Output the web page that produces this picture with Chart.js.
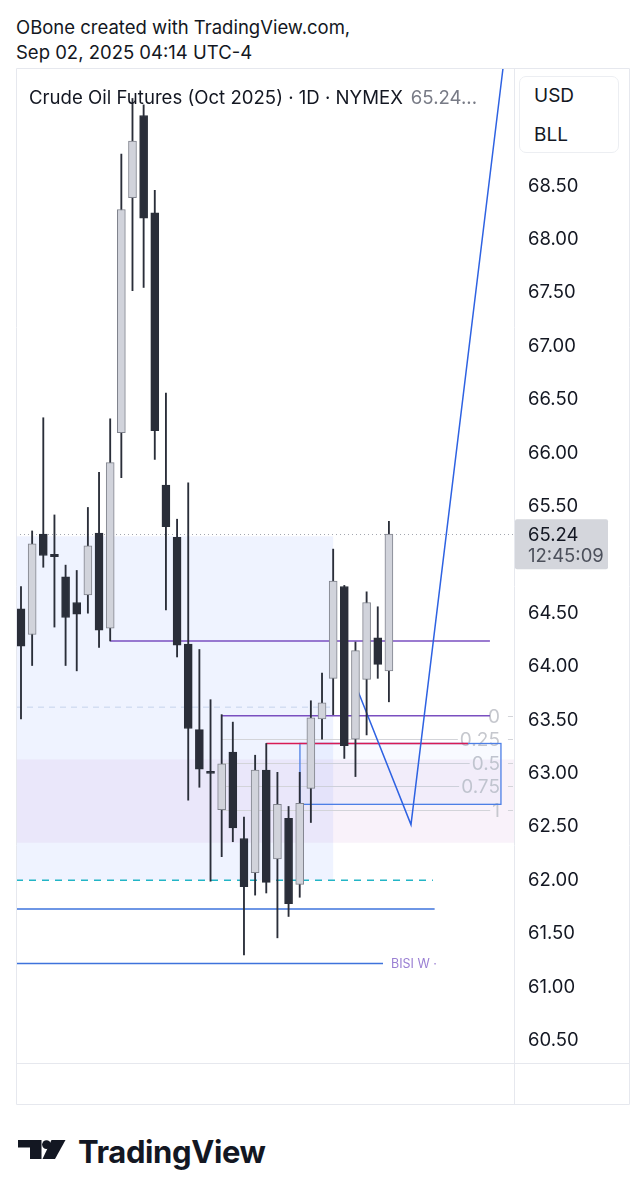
<!DOCTYPE html>
<html>
<head>
<meta charset="utf-8">
<title>Crude Oil Futures (Oct 2025) · 1D · NYMEX</title>
<script src="https://cdn.jsdelivr.net/npm/chart.js@4.4.1/dist/chart.umd.min.js"></script>
<style>
  html, body { margin: 0; padding: 0; background: #fff; width: 642px; height: 1200px; overflow: hidden;
    font-family: Inter, "Noto Sans", sans-serif; color: #131722; }
  #hdr { position: absolute; left: 16px; top: 15px; font-size: 18.5px; line-height: 25px; white-space: nowrap; }
  #wrap { position: absolute; left: 16px; top: 68px; width: 614px; height: 1037px; }
  #title { position: absolute; left: 29px; top: 86px; font-size: 18.6px; line-height: 22px; white-space: nowrap; }
  #title .v { color: #787b86; margin-left: 8px; }
  #unit { position: absolute; left: 519px; top: 76px; width: 100px; height: 77px; box-sizing: border-box;
    border: 1px solid #eceef2; border-radius: 7px; font-size: 19px; background: #fff; }
  #unit div { position: absolute; left: 14px; }
  #logo { position: absolute; left: 18px; top: 1140px; }
  #brand { position: absolute; left: 78px; top: 1136px; font-size: 31px; line-height: 31px; font-weight: 700;
    letter-spacing: -0.4px; color: #131722; }
</style>
</head>
<body>
<div id="hdr">OBone created with TradingView.com,<br>Sep 02, 2025 04:14 UTC-4</div>
<div id="wrap"><canvas id="c" width="614" height="1037"></canvas></div>
<div id="title">Crude Oil Futures (Oct 2025) · 1D · NYMEX<span class="v">65.24...</span></div>
<div id="unit"><div style="top:7px">USD</div><div style="top:46px">BLL</div></div>
<svg id="logo" width="48" height="19" viewBox="0 0 48 19">
  <path d="M0 0H23.5V19H12V7.5H0Z" fill="#131722"/>
  <circle cx="28.5" cy="4.6" r="4.4" fill="#131722"/>
  <path d="M33.5 0H47.5L37 19H24.5Z" fill="#131722"/>
</svg>
<div id="brand">TradingView</div>

<script>
// Daily OHLC, oldest to newest
const candleOpen  = [64.54, 64.30, 65.24, 65.05, 64.84, 64.60, 64.67, 65.25, 64.36, 66.19,
                     68.39, 69.16, 68.25, 65.70, 65.21, 64.21, 63.41, 63.02, 62.66, 63.20,
                     62.39, 62.07, 63.03, 62.20, 62.58, 61.96, 62.86, 63.51, 63.89, 64.75,
                     63.32, 63.88, 64.27, 63.96];
const candleHigh  = [64.75, 65.27, 66.33, 65.42, 64.95, 64.90, 65.49, 65.82, 66.32, 68.80,
                     69.32, 69.26, 68.46, 66.56, 65.38, 65.72, 64.16, 63.69, 63.55, 63.48,
                     62.59, 63.17, 63.28, 63.01, 62.69, 63.01, 63.68, 63.94, 65.10, 64.76,
                     64.23, 64.70, 64.56, 65.36];
const candleLow   = [63.51, 64.01, 64.93, 64.37, 64.01, 63.96, 64.50, 64.18, 64.24, 65.77,
                     67.52, 67.55, 65.94, 64.53, 64.09, 62.75, 62.87, 61.99, 62.22, 62.36,
                     61.30, 61.86, 61.88, 61.46, 61.66, 61.84, 62.54, 63.32, 63.55, 63.14,
                     62.97, 63.36, 63.89, 63.67];
const candleClose = [64.19, 65.15, 65.04, 65.03, 64.46, 64.49, 65.13, 64.34, 65.91, 68.28,
                     68.92, 68.20, 66.21, 65.31, 64.20, 63.42, 63.04, 63.00, 63.09, 62.49,
                     61.94, 63.03, 61.98, 62.71, 61.78, 62.72, 63.52, 63.66, 64.80, 63.26,
                     64.15, 64.60, 64.02, 65.24];

// Price scale labels (65.00 sits under the last-price tag, 69.00+ under the unit box)
const priceTicks = [68.5, 68.0, 67.5, 67.0, 66.5, 66.0, 65.5, 64.5, 64.0, 63.5,
                    63.0, 62.5, 62.0, 61.5, 61.0, 60.5];

const lastPrice = 65.24;
const countdown = '12:45:09';

// Drawn levels (price)
const zoneTop = 65.22, zoneBottom = 62.00, zoneMid = 63.62;
const bandTop = 63.13, bandBottom = 62.35;
const highLevel = 64.24;
const fibPrices = [63.54, 63.32, 63.10, 62.88, 62.66];
const fibLabels = ['0', '0.25', '0.5', '0.75', '1'];
const redLevel = 63.28;
const boxTop = 63.28, boxBottom = 62.71;
const tealLevel = 62.00;
const blueLevel = 61.73;
const bisiLevel = 61.22;
const bisiLabel = 'BISI W ·';

// Projected path: bar index / price
const pathX = [30, 34.98, 43.23];
const pathY = [63.83, 62.52, 69.60];

const X_MIN = -0.448, X_MAX = 44.22;
const Y_MIN = 60.288, Y_MAX = 69.605;

const DARK = '#2a2e39', LIGHT = '#d1d3db', LIGHT_EDGE = '#80838d';
const idx = candleOpen.map((_, i) => i);
const isUp = idx.map(i => candleClose[i] >= candleOpen[i]);

function hLine(y, x0, x1, color, width, dash) {
  return {
    type: 'line', data: [{ x: x0, y: y }, { x: x1, y: y }],
    borderColor: color, borderWidth: width, borderDash: dash || [],
    pointRadius: 0, fill: false, tension: 0, order: 5
  };
}

const overlayPlugin = {
  id: 'overlay',
  beforeDatasetsDraw(chart) {
    const { ctx, chartArea: a, scales: { x, y } } = chart;
    ctx.save();
    ctx.beginPath(); ctx.rect(a.left, a.top, a.right - a.left, a.bottom - a.top); ctx.clip();
    const fillZone = (x0, x1, p0, p1, color) => {
      const l = x.getPixelForValue(x0), r = x.getPixelForValue(x1);
      const t = y.getPixelForValue(p0), b = y.getPixelForValue(p1);
      ctx.fillStyle = color; ctx.fillRect(l, t, r - l, b - t);
    };
    fillZone(X_MIN, 28, zoneTop, zoneBottom, 'rgba(41,98,255,0.075)');
    fillZone(X_MIN, X_MAX, bandTop, bandBottom, 'rgba(186,104,200,0.085)');
    // fib grid (level 0 is drawn as a dataset line)
    ctx.font = '19px Inter, sans-serif';
    ctx.textBaseline = 'middle';
    ctx.textAlign = 'right';
    const labelRight = x.getPixelForValue(42.96);
    fibPrices.forEach((p, i) => {
      const py = Math.round(y.getPixelForValue(p)) + 0.5;
      const w = ctx.measureText(fibLabels[i]).width;
      ctx.strokeStyle = '#d3d4d9'; ctx.lineWidth = 1;
      ctx.beginPath();
      if (i > 0) {
        ctx.moveTo(x.getPixelForValue(18), py);
        ctx.lineTo(labelRight - w - 2, py);
      }
      ctx.moveTo(labelRight + 8, py);
      ctx.lineTo(a.right - 1, py);
      ctx.stroke();
      ctx.fillStyle = '#c6c8ce';
      ctx.fillText(fibLabels[i], labelRight, py + 1);
    });
    // target box
    const bl = x.getPixelForValue(25.02), br = x.getPixelForValue(43.05);
    const bt = y.getPixelForValue(boxTop), bb = y.getPixelForValue(boxBottom);
    ctx.fillStyle = 'rgba(41,98,255,0.03)';
    ctx.fillRect(bl, bt, br - bl, bb - bt);
    ctx.strokeStyle = '#4d7fe6'; ctx.lineWidth = 1.3;
    ctx.strokeRect(bl, bt, br - bl, bb - bt);
    // last price dotted line
    const ly = Math.round(y.getPixelForValue(lastPrice)) + 0.5;
    ctx.strokeStyle = '#a3a6af'; ctx.lineWidth = 1; ctx.setLineDash([1, 3]);
    ctx.beginPath(); ctx.moveTo(a.left, ly); ctx.lineTo(a.right, ly); ctx.stroke();
    ctx.restore();
  },
  afterDatasetsDraw(chart) {
    const { ctx, scales: { x, y } } = chart;
    ctx.save();
    ctx.font = '12.5px Inter, sans-serif';
    ctx.textBaseline = 'middle';
    ctx.textAlign = 'left';
    ctx.fillStyle = '#9a7fd3';
    ctx.fillText(bisiLabel, x.getPixelForValue(32.47) + 8, y.getPixelForValue(bisiLevel) + 1);
    ctx.restore();
  },
  afterDraw(chart) {
    const { ctx, chartArea: a, scales: { y } } = chart;
    const W = chart.width, H = chart.height;
    ctx.save();
    ctx.strokeStyle = '#e6e8ee'; ctx.lineWidth = 1;
    ctx.beginPath();
    ctx.rect(0.5, 0.5, W - 1, H - 1);
    ctx.moveTo(Math.round(a.right) + 0.5, 0); ctx.lineTo(Math.round(a.right) + 0.5, H);
    ctx.moveTo(0, Math.round(a.bottom) + 0.5); ctx.lineTo(W, Math.round(a.bottom) + 0.5);
    ctx.stroke();
    // last price tag
    const py = y.getPixelForValue(lastPrice);
    ctx.fillStyle = '#d4d6dc';
    ctx.beginPath();
    ctx.roundRect(a.right + 1, py - 15, 93, 50, 2);
    ctx.fill();
    ctx.font = '18.5px Inter, sans-serif';
    ctx.textBaseline = 'middle'; ctx.textAlign = 'left';
    ctx.fillStyle = '#131722';
    ctx.fillText(lastPrice.toFixed(2), a.right + 14, py + 1);
    ctx.fillStyle = '#4c505b';
    ctx.fillText(countdown, a.right + 14, py + 22);
    ctx.restore();
  }
};

new Chart(document.getElementById('c'), {
  type: 'bar',
  data: {
    datasets: [
      {
        label: 'body',
        data: idx.map(i => ({ x: i, y: [candleOpen[i], candleClose[i]] })),
        backgroundColor: idx.map(i => isUp[i] ? LIGHT : DARK),
        borderColor: idx.map(i => isUp[i] ? LIGHT_EDGE : DARK),
        borderWidth: 1, borderSkipped: false, barThickness: 8, grouped: false, order: 0
      },
      {
        label: 'wick',
        data: idx.map(i => ({ x: i, y: [candleLow[i], candleHigh[i]] })),
        backgroundColor: DARK, borderWidth: 0, barThickness: 1.2, grouped: false, order: 1
      },
      hLine(zoneMid, X_MIN, 28, '#c5d4ec', 1, [6, 5]),
      hLine(tealLevel, X_MIN, 36.95, '#22b5c6', 1.5, [7, 6]),
      hLine(blueLevel, X_MIN, 37.1, '#3e73dc', 1.5),
      hLine(bisiLevel, X_MIN, 32.47, '#3e73dc', 1.5),
      hLine(highLevel, 8, 42.06, '#7a4fc0', 1.6),
      hLine(fibPrices[0], 18, 42.06, '#7a4fc0', 1.6),
      hLine(redLevel, 22, 40.09, '#d81b55', 1.5),
      {
        type: 'line',
        data: pathX.map((v, i) => ({ x: v, y: pathY[i] })),
        borderColor: '#2e62e2', borderWidth: 1.5, pointRadius: 0, fill: false, tension: 0, order: 4
      }
    ]
  },
  options: {
    responsive: false,
    animation: false,
    devicePixelRatio: 1,
    events: [],
    layout: { padding: { left: 0, top: 0, right: 0, bottom: 42 } },
    plugins: { legend: { display: false }, tooltip: { enabled: false }, title: { display: false } },
    scales: {
      x: { type: 'linear', min: X_MIN, max: X_MAX, offset: false, display: false },
      y: {
        type: 'linear', position: 'right', min: Y_MIN, max: Y_MAX,
        afterBuildTicks: s => { s.ticks = priceTicks.map(v => ({ value: v })); },
        afterFit: s => { s.width = 116; s.paddingTop = 0; s.paddingBottom = 0; },
        grid: { display: false, drawTicks: false },
        border: { display: false },
        ticks: {
          padding: 14, color: '#131722',
          font: { family: 'Inter', size: 18.5 },
          callback: v => Number(v).toFixed(2)
        }
      }
    }
  },
  plugins: [overlayPlugin]
});
</script>
</body>
</html>
